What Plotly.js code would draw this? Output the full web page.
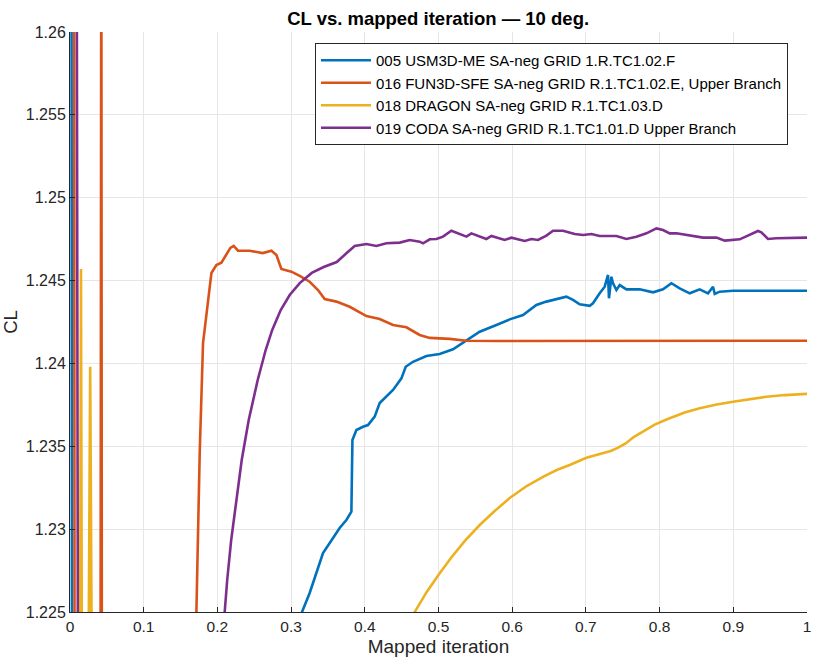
<!DOCTYPE html>
<html>
<head>
<meta charset="utf-8">
<script src="https://cdn.plot.ly/plotly-3.0.1.min.js"></script>
<style>html,body{margin:0;padding:0;background:#fff}#chart{width:822px;height:665px}</style>
</head>
<body>
<div id="chart"></div>
<script>
// ---- data ----
const names = [
  "005 USM3D-ME SA-neg GRID 1.R.TC1.02.F",
  "016 FUN3D-SFE SA-neg GRID R.1.TC1.02.E, Upper Branch",
  "018 DRAGON SA-neg GRID R.1.TC1.03.D",
  "019 CODA SA-neg GRID R.1.TC1.01.D Upper Branch"
];
const colors = ["#0072BD", "#D95319", "#EDB120", "#7E2F8E"];

const x005 = [0.0005,0.002,0.003,0.31,0.313,0.3252,0.332,0.3433,0.3569,0.3659,0.375,0.3818,0.3832,0.3886,0.3976,0.4043,0.4134,0.4202,0.4383,0.4497,0.4555,0.4654,0.4836,0.5016,0.5197,0.5379,0.5559,0.5786,0.5966,0.6147,0.6328,0.6464,0.6735,0.6825,0.6916,0.7052,0.7096,0.7187,0.7255,0.73,0.7313,0.7346,0.7368,0.7414,0.7459,0.755,0.773,0.7911,0.8046,0.816,0.8273,0.8409,0.8544,0.8657,0.8725,0.8748,0.8816,0.8996,1.0];
const y005 = [1.27,1.27,1.20,1.20,1.2248,1.22615,1.22705,1.22856,1.22947,1.23007,1.23055,1.23105,1.23538,1.23598,1.23618,1.23628,1.23679,1.23761,1.2384,1.2391,1.2398,1.2401,1.24045,1.24057,1.24085,1.24141,1.24191,1.24232,1.24266,1.24292,1.24353,1.24373,1.24403,1.24383,1.24357,1.24348,1.24363,1.24423,1.24463,1.24534,1.24393,1.24523,1.24484,1.24443,1.24473,1.24447,1.24447,1.24429,1.24447,1.24484,1.24453,1.24423,1.24447,1.24423,1.24463,1.24419,1.24433,1.24439,1.24439];

const x016 = [0.004,0.0055,0.0065,0.041,0.0425,0.0435,0.168,0.1715,0.176,0.1805,0.1919,0.1986,0.2054,0.2176,0.2221,0.228,0.2438,0.2615,0.2733,0.2801,0.2868,0.3004,0.3117,0.3252,0.3365,0.3456,0.3615,0.3795,0.4022,0.4202,0.4383,0.4564,0.4745,0.4881,0.5152,0.5379,0.5786,1.0];
const y016 = [1.27,1.27,1.20,1.20,1.27,1.20,1.20,1.2250,1.2346,1.24123,1.24546,1.24594,1.24608,1.24697,1.24709,1.2468,1.2468,1.24666,1.2468,1.24654,1.2457,1.24554,1.24528,1.24493,1.24443,1.24389,1.24373,1.24342,1.24286,1.24268,1.24232,1.24218,1.24172,1.24154,1.24148,1.24137,1.24135,1.24137];

const x018 = [0.011,0.0125,0.0149,0.0172,0.0225,0.0274,0.0322,0.465,0.4677,0.484,0.5016,0.5179,0.5355,0.5559,0.5762,0.5966,0.6197,0.6418,0.6604,0.678,0.7007,0.7232,0.7336,0.7431,0.754,0.7648,0.7797,0.7933,0.811,0.834,0.8544,0.8775,0.8996,0.9222,0.9449,0.9697,1.0];
const y018 = [1.20,1.20,1.2457,1.20,1.20,1.2398,1.20,1.20,1.2250,1.22621,1.22734,1.22832,1.22928,1.23025,1.23109,1.23188,1.2326,1.23316,1.23357,1.23387,1.23431,1.23458,1.23472,1.2349,1.23517,1.23556,1.23598,1.23631,1.23665,1.23704,1.23729,1.23752,1.23769,1.23785,1.23799,1.23809,1.23816];

const x019 = [0.0075,0.009,0.0115,0.205,0.2099,0.2133,0.2187,0.2255,0.233,0.2425,0.2547,0.2655,0.2744,0.2859,0.2981,0.3117,0.328,0.3442,0.3619,0.3754,0.3863,0.4022,0.4157,0.4293,0.4474,0.4609,0.4745,0.479,0.4881,0.4972,0.5061,0.5175,0.5311,0.5379,0.5446,0.5559,0.565,0.5718,0.5898,0.5989,0.617,0.6261,0.635,0.6464,0.6554,0.6689,0.6848,0.6961,0.7075,0.7187,0.7414,0.755,0.7685,0.7821,0.7957,0.8046,0.8137,0.8228,0.8409,0.8589,0.8771,0.8884,0.9087,0.9223,0.9335,0.9381,0.9471,0.9585,1.0];
const y019 = [1.27,1.27,1.20,1.20,1.2250,1.22693,1.22934,1.23176,1.23417,1.23659,1.239,1.24081,1.24202,1.24322,1.24413,1.24485,1.24546,1.24582,1.24612,1.24666,1.24709,1.24721,1.24709,1.24725,1.24729,1.24745,1.24735,1.24725,1.24749,1.24751,1.24765,1.24801,1.24775,1.24765,1.24785,1.24765,1.24751,1.24769,1.24745,1.24759,1.24739,1.24751,1.24745,1.24771,1.24801,1.24801,1.24781,1.24775,1.24781,1.24769,1.24769,1.24751,1.24765,1.24785,1.24815,1.24805,1.24785,1.24785,1.24771,1.24759,1.24759,1.24741,1.24749,1.24775,1.24799,1.24791,1.24751,1.24755,1.24759];

const xTicks = [0,0.1,0.2,0.3,0.4,0.5,0.6,0.7,0.8,0.9,1];
const xTickText = ["0","0.1","0.2","0.3","0.4","0.5","0.6","0.7","0.8","0.9","1"];
const yTicks = [1.225,1.23,1.235,1.24,1.245,1.25,1.255,1.26];
const yTickText = ["1.225","1.23","1.235","1.24","1.245","1.25","1.255","1.26"];

const xs = [x005, x016, x018, x019];
const ys = [y005, y016, y018, y019];

const traces = names.map((n, i) => ({
  x: xs[i], y: ys[i], name: n, type: "scatter", mode: "lines",
  line: {color: colors[i], width: 2.6}, cliponaxis: true
}));

const font = "Liberation Sans, Arial, Helvetica, sans-serif";
const layout = {
  width: 822, height: 665,
  margin: {l: 70, r: 15, t: 32, b: 53},
  paper_bgcolor: "#fff", plot_bgcolor: "#fff",
  font: {family: font, size: 15, color: "#262626"},
  title: {text: "<b>CL vs. mapped iteration — 10 deg.</b>", font: {family: font, size: 18.5, color: "#000"},
          x: 0.533, xanchor: "center", y: 0.972, yanchor: "middle"},
  xaxis: {
    range: [0, 1], tickvals: xTicks, ticktext: xTickText, automargin: false,
    showgrid: true, gridcolor: "#e6e6e6", gridwidth: 1,
    zeroline: false, showline: true, linecolor: "#262626", linewidth: 1,
    ticks: "inside", ticklen: 5, tickcolor: "#262626",
    tickfont: {family: font, size: 15.5, color: "#262626"},
    title: {text: "Mapped iteration", font: {family: font, size: 19, color: "#262626"}, standoff: 6}
  },
  yaxis: {
    range: [1.225, 1.26], tickvals: yTicks, ticktext: yTickText, automargin: false,
    showgrid: true, gridcolor: "#e6e6e6", gridwidth: 1,
    zeroline: false, showline: true, linecolor: "#262626", linewidth: 1,
    ticks: "inside", ticklen: 5, tickcolor: "#262626",
    tickfont: {family: font, size: 16, color: "#262626"},
    title: {text: "CL", font: {family: font, size: 18.5, color: "#262626"}, standoff: 8}
  },
  showlegend: true,
  legend: {
    x: 0.3324, xanchor: "left", y: 0.981, yanchor: "top",
    bgcolor: "#fff", bordercolor: "#262626", borderwidth: 1,
    font: {family: font, size: 15, color: "#000"},
    tracegroupgap: 0, itemwidth: 50
  }
};

Plotly.newPlot("chart", traces, layout, {displayModeBar: false, staticPlot: true});
</script>
</body>
</html>
